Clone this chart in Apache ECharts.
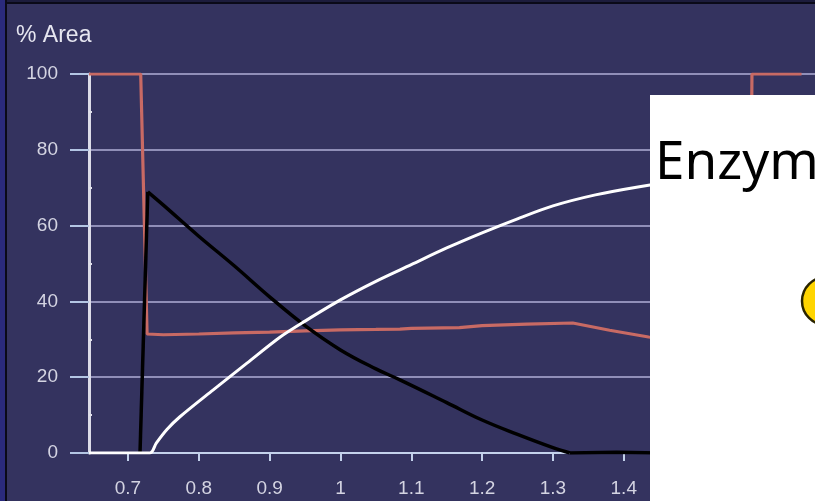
<!DOCTYPE html>
<html>
<head>
<meta charset="utf-8">
<script src="https://cdn.jsdelivr.net/npm/echarts@6/dist/echarts.min.js"></script>
<style>
  html, body { margin: 0; padding: 0; background: #34335f; }
  #chart { width: 815px; height: 501px; }
</style>
</head>
<body>
<div id="chart"></div>
<script>
// Peak-area traces, [x, % area]
const redPoints = [
  [0.645, 100], [0.718, 100], [0.727, 31.4], [0.75, 31.2], [0.8, 31.4], [0.85, 31.7],
  [0.9, 31.9], [0.95, 32.2], [1.0, 32.5], [1.05, 32.6], [1.084, 32.7], [1.1, 32.9],
  [1.168, 33.1], [1.2, 33.6], [1.263, 34.0], [1.328, 34.3], [1.38, 32.4], [1.435, 30.6],
  [1.5, 29.1], [1.578, 27.6], [1.581, 100], [1.651, 100]
];
const blackRise = [[0.717, 0], [0.728, 68.9]];
const blackDecay = [
  [0.728, 68.9], [0.75, 65.4], [0.8, 57.2], [0.85, 49.4], [0.9, 41.2],
  [0.95, 33.6], [1.0, 27.2], [1.05, 22.2], [1.084, 19.3], [1.15, 13.3], [1.2, 8.7],
  [1.25, 4.9], [1.3, 1.4], [1.324, 0]
];
const blackTail = [[1.324, 0], [1.39, 0.2], [1.45, 0], [1.651, 0]];
const whitePoints = [
  [0.645, 0], [0.731, 0], [0.74, 2.6], [0.755, 6.2], [0.773, 9.5], [0.82, 16.6], [0.868, 23.7],
  [0.915, 30.6], [0.95, 34.8], [1.0, 40.4], [1.05, 45.3], [1.1, 49.7], [1.15, 54.1],
  [1.2, 58.1], [1.25, 61.8], [1.3, 65.2], [1.36, 68.1], [1.42, 70.2], [1.5, 72.5], [1.58, 74.5]
];
const xTickValues = [0.7, 0.8, 0.9, 1.0, 1.1, 1.2, 1.3, 1.4, 1.5, 1.6];
const yMinorTickValues = [10, 30, 50, 70, 90];
const yAxisTitle = '% Area';
const panelHeading = 'Enzym';

const chart = echarts.init(document.getElementById('chart'), null, { renderer: 'canvas' });
const labelFont = { color: '#d4d4e2', fontSize: 19, fontFamily: 'Liberation Sans, Arial, sans-serif' };
const blackLine = { color: '#000000', width: 3.5 };

chart.setOption({
  backgroundColor: '#34335f',
  animation: false,
  title: {
    text: yAxisTitle, left: 11, top: 19,
    textStyle: { color: '#e6e6f0', fontSize: 23, fontWeight: 'normal', fontFamily: 'Liberation Sans, Arial, sans-serif' }
  },
  grid: { left: 89, right: 0, top: 74, bottom: 48, containLabel: false },
  xAxis: {
    type: 'value', min: 0.645, max: 1.67,
    axisLine: { show: true, lineStyle: { color: '#c4d2ec', width: 2 } },
    axisTick: { show: true, length: 8, customValues: xTickValues, lineStyle: { color: '#c4d2ec', width: 2 } },
    axisLabel: Object.assign({ margin: 26, customValues: xTickValues }, labelFont),
    splitLine: { show: false }
  },
  yAxis: [{
    type: 'value', min: 0, max: 100, interval: 20,
    axisLine: { show: true, lineStyle: { color: '#dcdce8', width: 3 } },
    axisTick: { show: true, length: 19, lineStyle: { color: '#b4c6e4', width: 2 } },
    axisLabel: Object.assign({ margin: 31 }, labelFont),
    splitLine: { show: true, lineStyle: { color: '#908fb8', width: 2 } }
  }, {
    type: 'value', min: 0, max: 100, position: 'left',
    axisLine: { show: false },
    axisTick: { show: true, inside: true, length: 3, customValues: yMinorTickValues, lineStyle: { color: '#e0e0ea', width: 2 } },
    axisLabel: { show: false },
    splitLine: { show: false }
  }],
  series: [
    { type: 'line', data: redPoints, showSymbol: false, lineStyle: { color: '#c86a64', width: 3.2 }, z: 3 },
    { type: 'line', data: blackRise, showSymbol: false, lineStyle: blackLine, z: 4 },
    { type: 'line', data: blackDecay, showSymbol: false, smooth: 0.4, lineStyle: blackLine, z: 4 },
    { type: 'line', data: blackTail, showSymbol: false, lineStyle: blackLine, z: 4 },
    { type: 'line', data: whitePoints, showSymbol: false, smooth: 0.3, lineStyle: { color: '#ffffff', width: 3 }, z: 5 }
  ],
  graphic: [
    // window frame edges
    { type: 'rect', shape: { x: 0, y: 0, width: 815, height: 2 }, style: { fill: '#1c1c3c' }, z: 100 },
    { type: 'rect', shape: { x: 0, y: 2, width: 815, height: 2 }, style: { fill: '#0a0a18' }, z: 100 },
    { type: 'rect', shape: { x: 0, y: 0, width: 5, height: 501 }, style: { fill: '#2a2a7c' }, z: 100 },
    { type: 'rect', shape: { x: 5, y: 0, width: 2, height: 501 }, style: { fill: '#0a0a18' }, z: 100 },
    // overlapping slide panel
    { type: 'rect', shape: { x: 650, y: 95, width: 165, height: 406 }, style: { fill: '#ffffff' }, z: 100 },
    { type: 'text', x: 655, y: 137, style: { text: panelHeading, fill: '#000000', font: '53px "Noto Sans", sans-serif', textVerticalAlign: 'top' }, z: 101 },
    { type: 'circle', shape: { cx: 826, cy: 301, r: 24 }, style: { fill: '#ffd500', stroke: '#2a2400', lineWidth: 2.5 }, z: 101 }
  ]
});
</script>
</body>
</html>
